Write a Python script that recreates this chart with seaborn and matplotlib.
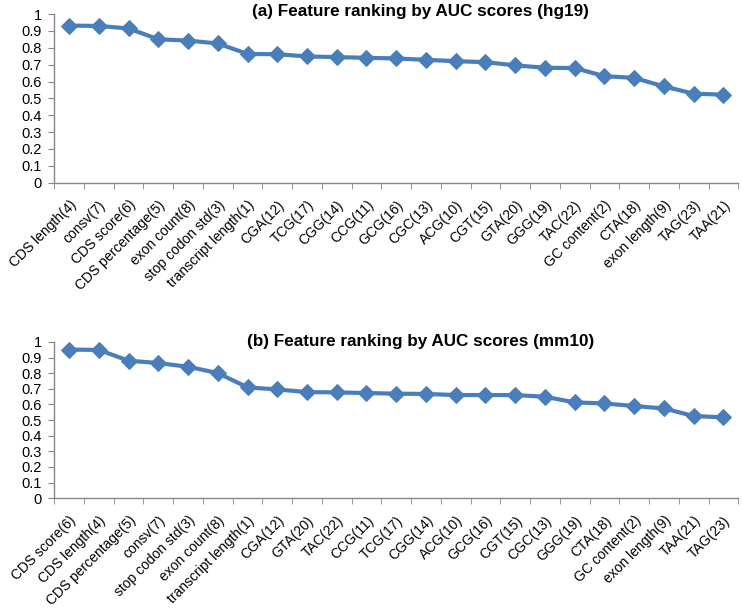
import numpy as np
import pandas as pd
import seaborn as sns
import matplotlib.pyplot as plt
from matplotlib.ticker import FixedLocator

# Data
hg19_features = ['CDS length(4)', 'consv(7)', 'CDS score(6)', 'CDS percentage(5)', 'exon count(8)',
                 'stop codon std(3)', 'transcript length(1)', 'CGA(12)', 'TCG(17)', 'CGG(14)',
                 'CCG(11)', 'GCG(16)', 'CGC(13)', 'ACG(10)', 'CGT(15)', 'GTA(20)', 'GGG(19)',
                 'TAC(22)', 'GC content(2)', 'CTA(18)', 'exon length(9)', 'TAG(23)', 'TAA(21)']
hg19_auc = [0.932, 0.930, 0.915, 0.851, 0.843, 0.826, 0.764, 0.762, 0.749, 0.745,
            0.741, 0.737, 0.729, 0.721, 0.715, 0.696, 0.682, 0.680, 0.632, 0.622,
            0.571, 0.528, 0.522]

mm10_features = ['CDS score(6)', 'CDS length(4)', 'CDS percentage(5)', 'consv(7)', 'stop codon std(3)',
                 'exon count(8)', 'transcript length(1)', 'CGA(12)', 'GTA(20)', 'TAC(22)',
                 'CCG(11)', 'TCG(17)', 'CGG(14)', 'ACG(10)', 'GCG(16)', 'CGT(15)', 'CGC(13)',
                 'GGG(19)', 'CTA(18)', 'GC content(2)', 'exon length(9)', 'TAA(21)', 'TAG(23)']
mm10_auc = [0.951, 0.949, 0.880, 0.865, 0.841, 0.801, 0.709, 0.696, 0.679, 0.677,
            0.673, 0.669, 0.667, 0.660, 0.660, 0.660, 0.649, 0.613, 0.606, 0.590,
            0.574, 0.526, 0.517]

yticks = [0, 0.1, 0.2, 0.3, 0.4, 0.5, 0.6, 0.7, 0.8, 0.9, 1]
ytick_labels = ['0', '0.1', '0.2', '0.3', '0.4', '0.5', '0.6', '0.7', '0.8', '0.9', '1']

sns.set_style('white')
plt.rcParams['font.family'] = ['Liberation Sans', 'DejaVu Sans']
plt.rcParams['text.color'] = 'black'
plt.rcParams['xtick.labelcolor'] = 'black'
plt.rcParams['ytick.labelcolor'] = 'black'

line_color = '#4A7EBB'
axis_color = '#868686'

fig = plt.figure(figsize=(7.42, 6.15), dpi=100)


def draw_panel(ax, features, auc, title, title_y):
    df = pd.DataFrame({'pos': np.arange(len(features)), 'auc': auc})
    sns.lineplot(data=df, x='pos', y='auc', ax=ax, color=line_color, linewidth=3,
                 marker='D', markersize=8.5, markeredgecolor=line_color, sort=False)
    n = len(features)
    ax.set_xlim(-0.5, n - 0.5)
    ax.set_ylim(0, 1)
    ax.set_xticks(np.arange(n))
    ax.set_xticklabels(features, rotation=45, ha='right', rotation_mode='anchor', fontsize=10)
    ax.xaxis.set_minor_locator(FixedLocator(np.arange(n + 1) - 0.5))
    ax.tick_params(axis='x', which='major', length=0, pad=11, labelcolor='black')
    ax.tick_params(axis='x', which='minor', length=4, color=axis_color, direction='out', bottom=True)
    ax.set_yticks(yticks)
    ax.set_yticklabels(ytick_labels, fontsize=10.5)
    ax.tick_params(axis='y', length=4, color=axis_color, direction='out', left=True, pad=5,
                   labelcolor='black')
    ax.set_xlabel('')
    ax.set_ylabel('')
    sns.despine(ax=ax)
    for s in ['left', 'bottom']:
        ax.spines[s].set_color(axis_color)
        ax.spines[s].set_linewidth(1)
    ax.text(0.535, title_y, title, transform=ax.transAxes, ha='center', va='center',
            fontsize=12.3, fontweight='bold', color='black')


ax1 = fig.add_axes([0.073, 0.703, 0.922, 0.274])
draw_panel(ax1, hg19_features, hg19_auc, '(a) Feature ranking by AUC scores (hg19)', 1.015)

ax2 = fig.add_axes([0.073, 0.190, 0.922, 0.254])
draw_panel(ax2, mm10_features, mm10_auc, '(b) Feature ranking by AUC scores (mm10)', 1.0)

plt.savefig('out.png', dpi=100)
